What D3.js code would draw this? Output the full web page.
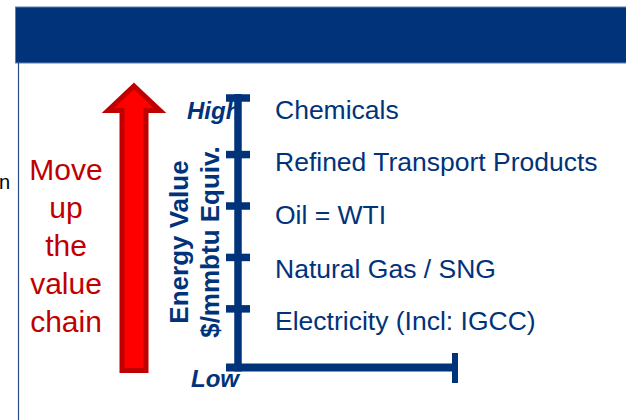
<!DOCTYPE html>
<html>
<head>
<meta charset="utf-8">
<script src="https://cdn.jsdelivr.net/npm/d3@7"></script>
<style>
  html, body { margin: 0; padding: 0; background: #fff; }
  svg { display: block; font-family: "Liberation Sans", Arial, sans-serif; }
</style>
</head>
<body>
<script>
//-----------------------------DATA-----------------------------//
const categories = ["Electricity (Incl: IGCC)", "Natural Gas / SNG", "Oil = WTI", "Refined Transport Products", "Chemicals"];
const energyLevel = [0.92, 1.93, 2.97, 4.0, 5.02];
const tickLevels = [1.15, 2.15, 3.15, 4.15];
const axisEnds = ["Low", "High"];
const axisTitle = ["Energy Value", "$/mmbtu Equiv."];
const arrowText = ["Move", "up", "the", "value", "chain"];

const width = 626, height = 420;
const blue = "#01337a", red = "#c00000";
const yMax = 5.25;

const svg = d3.select("body").append("svg")
    .attr("width", width)
    .attr("height", height);

//----------------------------FRAME-----------------------------//
svg.append("rect")
    .attr("x", 15.5).attr("y", 7)
    .attr("width", width).attr("height", 56)
    .attr("fill", blue)
    .attr("stroke", "#5f7eb0")
    .attr("stroke-width", 1);

svg.append("line")
    .attr("x1", 18.5).attr("x2", 18.5)
    .attr("y1", 63).attr("y2", height)
    .attr("stroke", "#2b4a86")
    .attr("stroke-width", 1.2);

// leftover letter from the neighbouring slide text
svg.append("text")
    .attr("x", -1).attr("y", 189)
    .style("font-size", "20px")
    .attr("fill", "#000")
    .text("n");

//----------------------------SCALES----------------------------//
const yScale = d3.scaleLinear().domain([0, yMax]).range([367.5, 97.5]);
const xScale = d3.scaleLinear().domain([0, 1]).range([226, 455]);

//----------------------------ARROW-----------------------------//
const ax = 134, tipY = yScale(yMax) - 11.5, baseY = yScale(0) + 3;
const arrowPts = [
    [ax, tipY],
    [ax + 26, tipY + 24.5],
    [ax + 12, tipY + 24.5],
    [ax + 12, baseY],
    [ax - 12, baseY],
    [ax - 12, tipY + 24.5],
    [ax - 26, tipY + 24.5]
];
svg.append("path")
    .attr("d", d3.line()(arrowPts) + "Z")
    .attr("fill", "#ff0000")
    .attr("stroke", red)
    .attr("stroke-width", 5)
    .attr("stroke-linejoin", "miter");

svg.append("g").selectAll("text")
    .data(arrowText)
    .enter().append("text")
    .attr("x", 66)
    .attr("y", (d, i) => 180 + i * 38)
    .attr("text-anchor", "middle")
    .attr("fill", red)
    .style("font-size", "30px")
    .text(d => d);

//-------------------------AXIS TITLE---------------------------//
svg.append("g").selectAll("text")
    .data(axisTitle)
    .enter().append("text")
    .attr("transform", (d, i) => "translate(" + (188 + i * 31) + ",242) rotate(-90)")
    .attr("text-anchor", "middle")
    .attr("fill", blue)
    .style("font-size", "26px")
    .style("font-weight", "bold")
    .text(d => d);

// High / Low (drawn under the axis line)
svg.append("g").selectAll("text")
    .data(axisEnds)
    .enter().append("text")
    .attr("x", (d, i) => i === 0 ? 191 : 187)
    .attr("y", (d, i) => (i === 0 ? yScale(0) : yScale(yMax)) + (i === 0 ? 19.5 : 21))
    .attr("fill", blue)
    .style("font-size", "24px")
    .style("font-weight", "bold")
    .style("font-style", "italic")
    .text(d => d);

//-----------------------------AXES-----------------------------//
const yaxis = d3.axisRight(yScale)
    .tickValues(tickLevels.concat([yMax]))
    .tickSize(24)
    .tickFormat("");

const gy = svg.append("g")
    .attr("transform", "translate(226,0)")
    .call(yaxis);
gy.select(".domain").remove();
gy.selectAll(".tick line")
    .attr("stroke", blue)
    .attr("stroke-width", 7.5);

svg.append("line")
    .attr("x1", 238).attr("x2", 238)
    .attr("y1", yScale(yMax) - 3.5).attr("y2", yScale(0) + 4)
    .attr("stroke", blue)
    .attr("stroke-width", 7.5);

svg.append("line")
    .attr("x1", xScale(0)).attr("x2", xScale(1))
    .attr("y1", yScale(0)).attr("y2", yScale(0))
    .attr("stroke", blue)
    .attr("stroke-width", 8);

svg.append("line")
    .attr("x1", xScale(1)).attr("x2", xScale(1))
    .attr("y1", yScale(0) - 14.5).attr("y2", yScale(0) + 15.5)
    .attr("stroke", blue)
    .attr("stroke-width", 6);

//----------------------------LABELS----------------------------//
svg.append("g").selectAll("text")
    .data(categories)
    .enter().append("text")
    .attr("x", 275)
    .attr("y", (d, i) => yScale(energyLevel[i]))
    .attr("dy", "0.36em")
    .attr("fill", blue)
    .style("font-size", "26.5px")
    .text(d => d);
</script>
</body>
</html>
